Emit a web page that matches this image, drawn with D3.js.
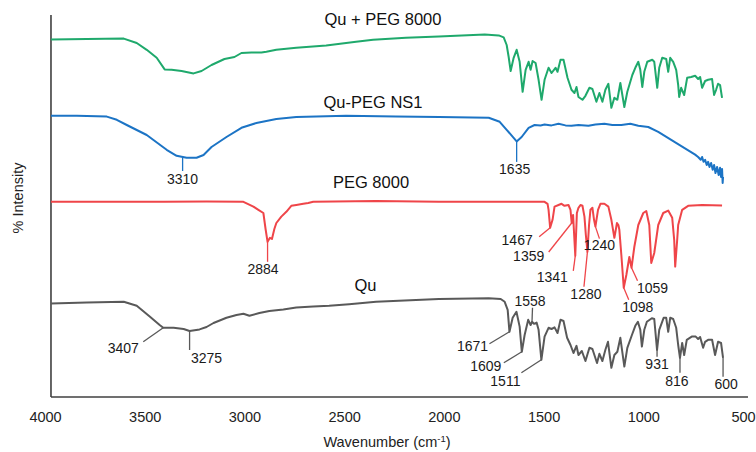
<!DOCTYPE html>
<html>
<head>
<meta charset="utf-8">
<script src="https://cdn.jsdelivr.net/npm/d3@7"></script>
<style>
  body { margin: 0; background: #fff; }
  svg { display: block; font-family: "Liberation Sans", Arial, sans-serif; }
</style>
</head>
<body>
<svg id="chart" width="756" height="452"></svg>
<script>
// ---- data -------------------------------------------------------------
const waveTicks = [4000, 3500, 3000, 2500, 2000, 1500, 1000, 500];
const seriesNames = ["Qu + PEG 8000", "Qu-PEG NS1", "PEG 8000", "Qu"];

// [wavenumber (cm-1), % intensity (stacked)]
const quPegMix = [
  [3970,89.4],[3790,89.5],[3605,89.6],[3540,88.5],[3490,86.8],[3440,84.8],[3400,81.9],[3365,81.8],
  [3315,81.5],[3255,80.9],[3215,81.5],[3165,83],[3100,84.5],[3050,85],[3015,86],[2965,86.1],
  [2915,86.1],[2890,86.3],[2840,86.8],[2740,87.3],[2590,87.9],[2440,88.8],[2355,89.3],[2190,89.8],
  [2025,90.1],[1795,90.6],[1725,90.4],[1700,89.9],[1685,88],[1675,85],[1665,81.5],[1650,84.8],
  [1635,86.8],[1620,83.8],[1605,76.3],[1590,81.8],[1575,83.8],[1565,81.8],[1555,84],[1540,83.5],
  [1525,79.3],[1510,74.3],[1495,79.3],[1475,82.3],[1460,81],[1440,82.3],[1430,81.3],[1415,84.3],
  [1400,84.3],[1380,79.8],[1360,76.8],[1345,76],[1335,77.5],[1325,75],[1305,74.3],[1290,75.3],
  [1270,77.3],[1255,77],[1235,73.8],[1220,76],[1205,73.8],[1190,76.8],[1175,78.3],[1160,72.3],
  [1145,74.8],[1130,74.3],[1115,78.5],[1095,72.5],[1080,76.3],[1055,80.5],[1040,82.3],[1025,83.8],
  [1015,81.8],[1005,77.5],[995,81.3],[980,83.8],[955,84.3],[945,83.8],[930,77.3],[920,82.3],
  [905,84.8],[885,84.5],[875,81.3],[865,84.8],[850,83.8],[835,81.8],[825,78],[820,75],
  [810,77.3],[795,75.5],[780,79.8],[760,80],[740,80.3],[725,79.5],[715,80],[705,77.3],
  [690,79],[675,79.3],[655,79.5],[645,75.5],[635,76.8],[625,78.3],[615,78],[605,74.8]
];
const quPegNs1 = [
  [3970,70.3],[3840,70.3],[3690,70.1],[3640,69.3],[3590,68],[3490,65.5],[3390,61.8],[3340,60.3],
  [3290,59.8],[3240,59.8],[3205,60.5],[3165,62.5],[3090,65],[3015,67.3],[2940,68.5],[2840,69.5],
  [2740,70],[2490,70.3],[2240,70.1],[2025,70],[1775,69.8],[1720,68.8],[1685,66.8],[1650,64.8],
  [1635,63.9],[1610,65],[1575,67.3],[1545,68],[1515,67.9],[1495,68.1],[1460,67.9],[1425,68.3],
  [1390,67.9],[1360,67.8],[1325,68],[1275,67.8],[1240,68.1],[1195,68.3],[1155,68],[1110,68],
  [1065,68.3],[1025,67.8],[975,67.5],[925,66.3],[860,64.3],[795,62.3],[740,60.6],[725,60],
  [712,59.3],[705,60],[698,58.8],[690,59.3],[682,58],[675,58.8],[668,57.5],[660,58.5],
  [652,56.8],[645,58],[638,56],[630,57.5],[622,55.5],[615,57.3],[610,55],[605,57],
  [602,53.5],[600,55]
];
const peg8000 = [
  [3970,48.8],[3640,48.8],[3405,48.8],[3190,48.9],[3005,48.8],[2955,47.6],[2930,46.8],[2905,46],
  [2894,42],[2884,38.8],[2872,39.8],[2862,39.5],[2850,42],[2840,43.5],[2815,45.1],[2790,46.3],
  [2765,47.8],[2740,48],[2705,48.3],[2680,48.5],[2655,48.8],[2340,49],[2025,48.8],[1495,48.8],
  [1480,48.3],[1475,46.8],[1467,42.3],[1455,44.3],[1445,47.6],[1425,48],[1410,48.3],[1395,47.8],
  [1375,48],[1365,46.8],[1359,43.5],[1352,45.5],[1341,35.3],[1333,46],[1325,47.3],[1315,48],
  [1305,47.8],[1295,45.1],[1288,40.5],[1280,36.3],[1272,43],[1265,46.8],[1255,47.3],[1247,44.3],
  [1240,42.6],[1227,46.8],[1215,48.3],[1195,48.3],[1175,47.6],[1160,44.3],[1145,39.8],[1132,43.5],
  [1125,43],[1120,41.8],[1110,35.5],[1098,27.3],[1085,30.5],[1070,35],[1059,32.3],[1045,37.5],
  [1025,43],[1000,46],[985,46.5],[970,43],[960,33.5],[945,36],[925,43],[900,46],
  [875,46.6],[855,44.8],[845,39.3],[840,32.6],[830,39.3],[825,43],[805,46.8],[775,47.8],
  [705,48],[605,47.9]
];
const quercetin = [
  [3970,23.4],[3790,23.6],[3605,23.8],[3540,22.8],[3475,20.1],[3425,18],[3407,17.3],[3355,17.3],
  [3305,17],[3275,16.5],[3225,16.9],[3190,17.5],[3155,18.5],[3090,19.8],[3040,20.5],[3005,20.8],
  [2975,20.3],[2925,21],[2875,21.5],[2805,21.9],[2740,22.4],[2655,22.6],[2575,22.8],[2475,23.2],
  [2340,23.8],[2025,24.5],[1775,24.7],[1715,24.5],[1695,23.8],[1680,21.8],[1671,16.3],[1655,19.8],
  [1636,21.3],[1620,17.6],[1609,11.3],[1595,15.5],[1577,19.3],[1565,18],[1558,18.8],[1548,18.3],
  [1535,18.6],[1525,16.8],[1511,9.3],[1495,15.1],[1475,17.3],[1460,17],[1445,17.4],[1430,16],
  [1415,19.3],[1400,19],[1382,14.8],[1365,13],[1350,11],[1335,12.8],[1325,10.5],[1308,11.5],
  [1290,9],[1270,12.3],[1255,12],[1232,8.5],[1220,10.8],[1205,9],[1190,11.8],[1177,13.8],
  [1160,7.3],[1145,10.5],[1130,11.3],[1115,14.8],[1095,7.6],[1080,12.3],[1057,15.5],[1040,17.8],
  [1027,18.8],[1015,16.8],[1007,12.6],[995,16.8],[982,18.8],[957,19.7],[945,19.5],[931,11.8],
  [920,16.8],[898,19.8],[885,19.8],[875,16.3],[865,19.8],[850,19.5],[835,17.3],[825,13],
  [816,9.8],[805,13.5],[795,10.5],[782,14.3],[757,15.1],[737,15.1],[725,14.5],[715,15],
  [700,12.3],[690,13.8],[675,14.3],[655,14.3],[640,10.5],[625,13.8],[610,13.5],[600,9.8]
];

// assigned band positions (cm-1)
const ns1Peaks = [3310, 1635];
const pegPeaks = [2884, 1467, 1359, 1341, 1280, 1240, 1098, 1059];
const quPeaks = [3407, 3275, 1671, 1609, 1558, 1511, 931, 816, 600];

// ---- layout -----------------------------------------------------------
const W = 756, H = 452;
const frameLeft = 3970, frameRight = 475;
const colors = ["#1fa96c", "#1c74c5", "#ef4549", "#595959"];
const titlePos = [[383, 25], [373, 108], [371, 187.5], [365.5, 291]];
// leader end and label baseline, relative to the band position on its trace
const peakLayout = {
  3310: { lead: [0, 14],    text: [0, 27] },
  1635: { lead: [0, 20.5],  text: [-2, 33] },
  2884: { lead: [0, 20],    text: [-4.5, 32] },
  1467: { lead: [-11, 9],   text: [-33, 17] },
  1359: { lead: [-23, 29],  text: [-43, 38] },
  1341: { lead: [-2, 15],   text: [-23, 26] },
  1280: { lead: [-3.5, 35], text: [-1.5, 47] },
  1240: { lead: [4, 12],    text: [4, 23] },
  1098: { lead: [5, 12],    text: [14, 24] },
  1059: { lead: [6, 13],    text: [21, 25] },
  3407: { lead: [-20, 14],  text: [-40, 25] },
  3275: { lead: [0, 19],    text: [17, 32] },
  1671: { lead: [-20, 12],  text: [-37, 19.3] },
  1609: { lead: [-18, 11],  text: [-36, 19] },
  1558: { lead: [0.5, -14], text: [-2, -15.7] },
  1511: { lead: [-20, 13],  text: [-36, 26] },
  931:  { lead: [0, 7],     text: [0, 19] },
  816:  { lead: [0, 15],    text: [-3, 28] },
  600:  { lead: [0, 19],    text: [3, 31] }
};

const x = d3.scaleLinear().domain([4000, 500]).range([45, 743]);
const y = d3.scaleLinear().domain([0, 95.5]).range([397, 15]);

const svg = d3.select("#chart");
svg.append("rect").attr("width", W).attr("height", H).attr("fill", "#fff");

// frame
svg.append("line")
  .attr("x1", x(frameLeft)).attr("x2", x(frameLeft))
  .attr("y1", y(95.5)).attr("y2", y(0))
  .attr("stroke", "#404040").attr("stroke-width", 1.6);
svg.append("line")
  .attr("x1", x(frameLeft)).attr("x2", x(frameRight))
  .attr("y1", y(0)).attr("y2", y(0))
  .attr("stroke", "#404040").attr("stroke-width", 1.6);

// wavenumber axis labels
const xAxis = svg.append("g")
  .attr("transform", `translate(0,${y(0)})`)
  .call(d3.axisBottom(x).tickValues(waveTicks).tickSize(0).tickPadding(14.5).tickFormat(d3.format("d")));
xAxis.select(".domain").remove();
xAxis.selectAll("text")
  .attr("font-family", '"Liberation Sans", Arial, sans-serif')
  .attr("font-size", 14.5).attr("fill", "#222");

// axis titles
const xt = svg.append("text")
  .attr("x", 387).attr("y", 447).attr("text-anchor", "middle")
  .attr("font-size", 14.5).attr("fill", "#222");
xt.append("tspan").text("Wavenumber (cm");
xt.append("tspan").attr("dy", -5.5).attr("font-size", 9.5).text("-1");
xt.append("tspan").attr("dy", 5.5).text(")");

svg.append("text")
  .attr("transform", "translate(23,198) rotate(-90)")
  .attr("text-anchor", "middle").attr("font-size", 14.5).attr("fill", "#222")
  .text("% Intensity");

// spectra
const allSeries = [quPegMix, quPegNs1, peg8000, quercetin];
const line = d3.line().x(d => x(d[0])).y(d => y(d[1]));
allSeries.forEach((s, i) => {
  svg.append("path")
    .attr("d", line(s))
    .attr("fill", "none")
    .attr("stroke", colors[i])
    .attr("stroke-width", 2)
    .attr("stroke-linejoin", "round");
  svg.append("text")
    .attr("x", titlePos[i][0]).attr("y", titlePos[i][1])
    .attr("text-anchor", "middle").attr("font-size", 16.5).attr("fill", "#111")
    .text(seriesNames[i]);
});

// value of a trace at a given wavenumber (linear between samples)
function valueAt(series, wn) {
  for (let i = 0; i < series.length - 1; i++) {
    const a = series[i], b = series[i + 1];
    if (a[0] >= wn && b[0] <= wn) {
      const t = (a[0] - wn) / (a[0] - b[0]);
      return a[1] + t * (b[1] - a[1]);
    }
  }
  return series[series.length - 1][1];
}

// band annotations
const peakSets = [[quPegNs1, ns1Peaks, colors[1]], [peg8000, pegPeaks, colors[2]], [quercetin, quPeaks, colors[3]]];
peakSets.forEach(([series, peaks, color]) => {
  peaks.forEach(wn => {
    const ax = x(wn), ay = y(valueAt(series, wn));
    const lay = peakLayout[wn];
    svg.append("line")
      .attr("x1", ax).attr("y1", ay)
      .attr("x2", ax + lay.lead[0]).attr("y2", ay + lay.lead[1])
      .attr("stroke", color).attr("stroke-width", 1.3);
    svg.append("text")
      .attr("x", ax + lay.text[0]).attr("y", ay + lay.text[1])
      .attr("text-anchor", "middle").attr("font-size", 14).attr("fill", "#1a1a1a")
      .text(wn);
  });
});
</script>
</body>
</html>
